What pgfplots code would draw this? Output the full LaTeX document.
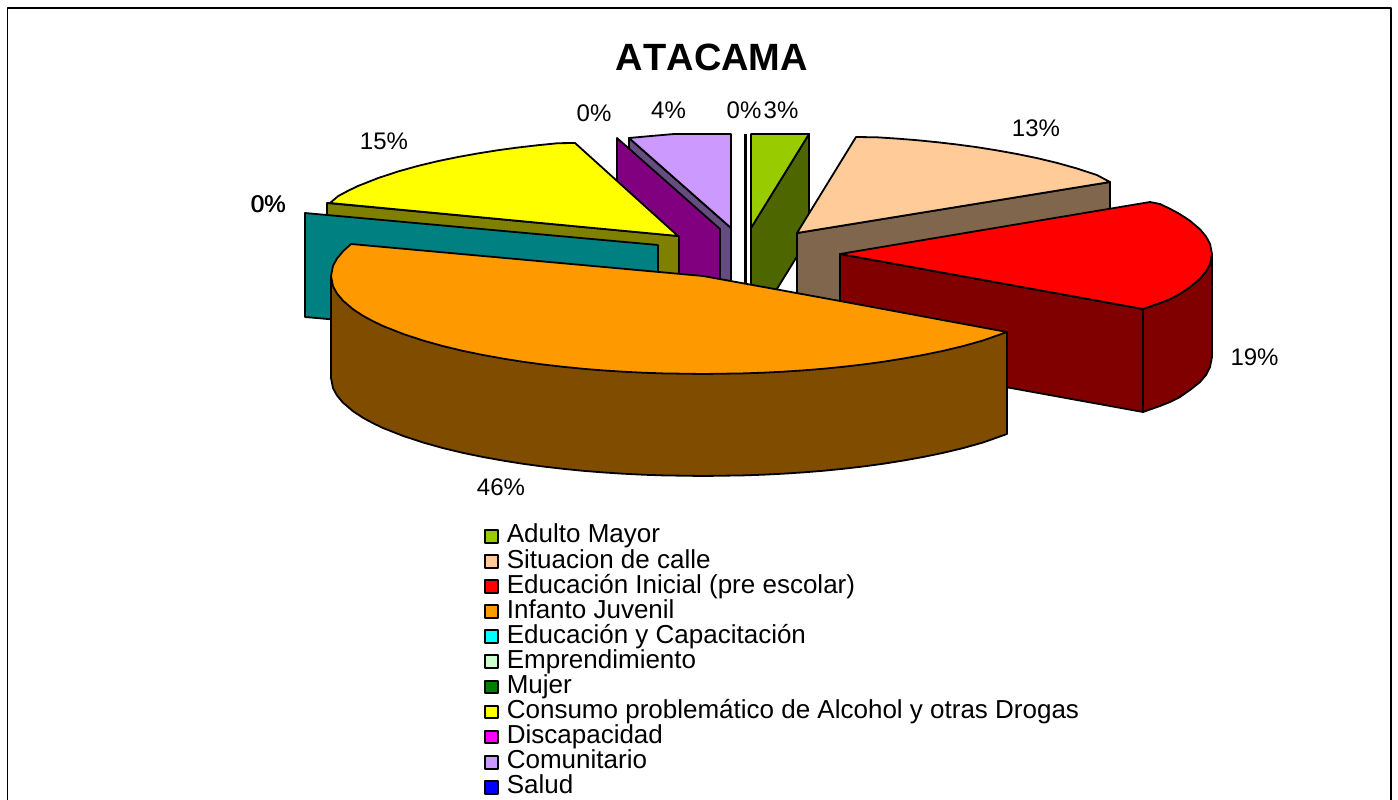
\documentclass[border=0pt]{standalone}
\usepackage{pgfplots}
\pgfplotsset{compat=1.18}
\usepackage{fontspec}
\setmainfont{Liberation Sans}
\definecolor{cgreen}{HTML}{99CC00}\definecolor{cgreend}{HTML}{4D6600}
\definecolor{cpeach}{HTML}{FFCC99}\definecolor{cpeachd}{HTML}{80664D}
\definecolor{cred}{HTML}{FF0000}\definecolor{credd}{HTML}{800000}
\definecolor{corange}{HTML}{FF9900}\definecolor{corangd}{HTML}{804D00}
\definecolor{ccyan}{HTML}{00FFFF}\definecolor{cteal}{HTML}{008080}
\definecolor{cmint}{HTML}{CCFFCC}\definecolor{cdgreen}{HTML}{008000}
\definecolor{cyel}{HTML}{FFFF00}\definecolor{colive}{HTML}{808000}
\definecolor{cmag}{HTML}{FF00FF}\definecolor{cpurp}{HTML}{800080}
\definecolor{clil}{HTML}{CC99FF}\definecolor{clild}{HTML}{664D80}
\definecolor{cblue}{HTML}{0000FF}
\begin{document}
\begin{tikzpicture}
\path[use as bounding box] (0,0) rectangle (1048.5pt,599.25pt);
\begin{axis}[
  at={(0,0)},anchor=south west,
  width=1048.5pt,height=599.25pt,scale only axis,
  xmin=0,xmax=1398,ymin=0,ymax=799,y dir=reverse,
  hide axis,
  every axis plot/.append style={line width=1.35pt,line join=round,black},
  legend image code/.code={\draw[#1,line width=1.5pt] (0pt,-4.8pt) rectangle (9.8pt,4.8pt);},
  legend cell align=left,
  legend style={at={(axis cs:483.5,524)},anchor=north west,draw=none,fill=none,
    inner sep=0pt,outer sep=0pt,row sep=0pt,
    font=\fontsize{19.5pt}{19.5pt}\selectfont,
    nodes={inner sep=0pt,outer sep=0pt,text height=14.2pt,text depth=4.6pt,anchor=west},
    /tikz/every odd column/.style={column sep=6.2pt}},
]
% frame
\addplot[forget plot,no marks,line width=1pt] coordinates {(7.5,805)(7.5,8)(1391,8)(1391,805)};
% Adulto Mayor side, top
\addplot[forget plot,fill=cgreend] coordinates {(809,134)(751,228)(751,285)(751,331)(809,237)} --cycle;
\addplot[forget plot,fill=cgreen] coordinates {(751,134)(809,134)(751,228)} --cycle;
% thin slice
\addplot[forget plot,no marks,line width=1.8pt] coordinates {(745.5,134)(745.5,290)};
% Comunitario
\addplot[forget plot,fill=clild] coordinates {(629,138)(731,228)(731,332)(629,242)} --cycle;
\addplot[forget plot,fill=clil] coordinates {(629,138)(651,136)(674,134)(731,134)(731,228)} --cycle;
% Discapacidad
\addplot[forget plot,fill=cpurp] coordinates {(617,138)(720,229)(720,332)(617,241)} --cycle;
% Consumo
\addplot[forget plot,fill=colive] coordinates {(327,203)(679,236)(679,339)(327,306)} --cycle;
\addplot[forget plot,fill=cyel] coordinates {(575,143)(558,143.2)(538,145.2)(518,147.5)(498,150.2)(478,153.4)(458,157)(438,161.1)(418,165.9)(398,171.5)(378,178.1)(358,186)(348,190.8)(338,196.2)(330,203)(678,236)} --cycle;
% Educacion y Capacitacion
\addplot[forget plot,fill=cteal] coordinates {(305,213)(658,245)(658,348)(305,317)} --cycle;
% Situacion de calle
\addplot[forget plot,fill=cpeachd] coordinates {(797,233)(1110,182)(1110,290)(797,340)} --cycle;
\addplot[forget plot,fill=cpeach] coordinates {(797,233)(856,137)(877,137.3)(897,138.6)(917,140.2)(937,142.2)(957,144.5)(977,147.2)(997,150.4)(1017,154)(1037,158.1)(1057,162.9)(1077,168.5)(1097,175.1)(1110,182)} --cycle;
% Educacion Inicial
\addplot[forget plot,fill=credd] coordinates {(840,254)(1143,309)(1143,412)(840,357)} --cycle;
\addplot[forget plot,fill=credd] coordinates {(1143,309)(1160,303)(1170,299.2)(1180,293.8)(1190,287.2)(1200,278.7)(1206,271.5)(1210,264.2)(1212,254)(1212,357)(1210,367)(1206,375)(1200,382)(1190,390)(1180,397)(1170,402)(1160,406)(1143,412)} --cycle;
\addplot[forget plot,fill=cred] coordinates {(840,254)(1150,202)(1160,204)(1170,208.8)(1180,214.2)(1190,220.8)(1200,229.3)(1206,236.5)(1210,243.8)(1212,254)(1210,264.2)(1206,271.5)(1200,278.7)(1190,287.2)(1180,293.8)(1170,299.2)(1160,303)(1143,309)} --cycle;
% Infanto Juvenil
\addplot[forget plot,fill=corangd] coordinates {(1007,332)(1007,434)(983,442.5)(963,448.1)(943,452.9)(923,457)(903,460.6)(883,463.8)(863,466.5)(843,468.8)(823,470.8)(803,472.4)(783,473.7)(763,474.7)(743,475.4)(703,476)(663,475.4)(643,474.7)(623,473.7)(603,472.4)(583,470.8)(563,468.8)(543,466.5)(523,463.8)(503,460.6)(483,457)(463,452.9)(443,448.1)(423,442.5)(403,435.9)(383,428)(373,423.2)(363,417.8)(353,411.2)(343,402.7)(337,395.5)(333,388.2)(331,378)(331,276)} --cycle;
\addplot[forget plot,fill=corange] coordinates {(351,244)(703,276)(780,290)(840,301)(1007,332)(983,340.5)(963,346.1)(943,350.9)(923,355)(903,358.6)(883,361.8)(863,364.5)(843,366.8)(823,368.8)(803,370.4)(783,371.7)(763,372.7)(743,373.4)(703,374)(663,373.4)(643,372.7)(623,371.7)(603,370.4)(583,368.8)(563,366.8)(543,364.5)(523,361.8)(503,358.6)(483,355)(463,350.9)(443,346.1)(423,340.5)(403,333.9)(383,326)(373,321.2)(363,315.8)(353,309.2)(343,300.7)(337,293.5)(333,286.2)(331,276)(333,265.8)(337,258.5)(343,251.3)} --cycle;
% legend
\addlegendimage{fill=cgreen}\addlegendentry{Adulto Mayor}
\addlegendimage{fill=cpeach}\addlegendentry{Situacion de calle}
\addlegendimage{fill=cred}\addlegendentry{Educación Inicial (pre escolar)}
\addlegendimage{fill=corange}\addlegendentry{Infanto Juvenil}
\addlegendimage{fill=ccyan}\addlegendentry{Educación y Capacitación}
\addlegendimage{fill=cmint}\addlegendentry{Emprendimiento}
\addlegendimage{fill=cdgreen}\addlegendentry{Mujer}
\addlegendimage{fill=cyel}\addlegendentry{Consumo problemático de Alcohol y otras Drogas}
\addlegendimage{fill=cmag}\addlegendentry{Discapacidad}
\addlegendimage{fill=clil}\addlegendentry{Comunitario}
\addlegendimage{fill=cblue}\addlegendentry{Salud}
% texts
\node[font=\fontsize{28.5pt}{30pt}\selectfont\bfseries\addfontfeature{Kerning=Off}] at (axis cs:712,57) {ATACAMA};
\tikzset{lab/.style={font=\fontsize{18pt}{20pt}\selectfont,text=black,inner sep=0pt}}
\node[lab] at (axis cs:384,141) {15\%};
\node[lab] at (axis cs:594,113) {0\%};
\node[lab] at (axis cs:668.5,110) {4\%};
\node[lab] at (axis cs:744,110) {0\%};
\node[lab] at (axis cs:781,110) {3\%};
\node[lab] at (axis cs:1036,128) {13\%};
\node[lab] at (axis cs:1254.5,357) {19\%};
\node[lab] at (axis cs:501,487) {46\%};
\node[lab] at (axis cs:268,204) {0\%};
\node[lab] at (axis cs:268.6,204) {0\%};
\end{axis}
\end{tikzpicture}
\end{document}
